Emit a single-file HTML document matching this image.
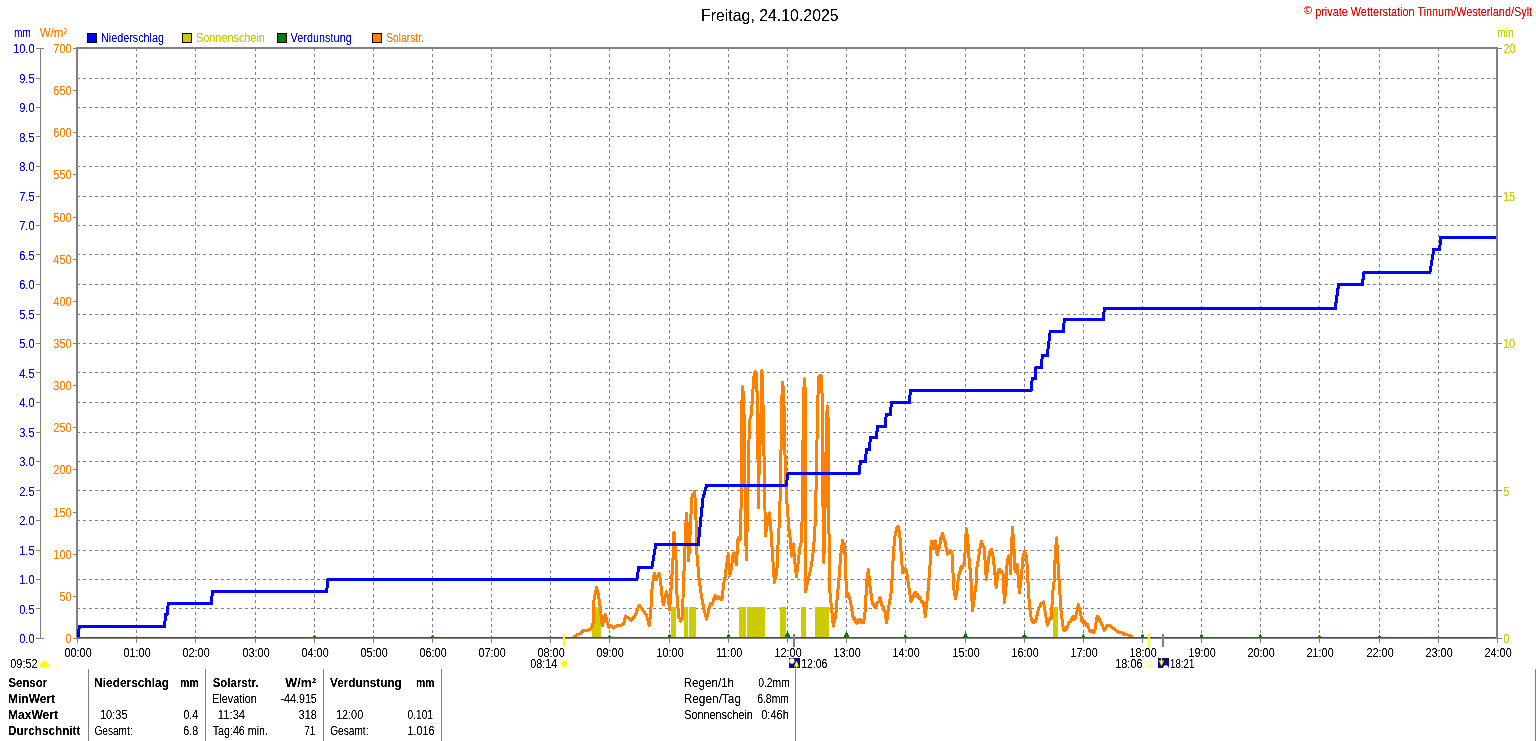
<!DOCTYPE html>
<html lang="de"><head><meta charset="utf-8"><title>Wetterstation Tinnum/Westerland/Sylt - Freitag, 24.10.2025</title>
<style>html,body{margin:0;padding:0;background:#fff;overflow:hidden}svg{display:block}text{font-family:"Liberation Sans",sans-serif;white-space:pre}</style></head><body>
<svg width="1536" height="741" viewBox="0 0 1536 741">
<defs><filter id="cr" x="0" y="0" width="1536" height="741" filterUnits="userSpaceOnUse" color-interpolation-filters="sRGB"><feComponentTransfer><feFuncA type="table" tableValues="0 0 0.7 1 1"/></feComponentTransfer></filter></defs>
<rect width="1536" height="741" fill="#fff"/>
<g shape-rendering="crispEdges" stroke="#808080" stroke-width="1" stroke-dasharray="3 3" fill="none">
<line x1="136.5" y1="48" x2="136.5" y2="637"/>
<line x1="195.5" y1="48" x2="195.5" y2="637"/>
<line x1="255.5" y1="48" x2="255.5" y2="637"/>
<line x1="314.5" y1="48" x2="314.5" y2="637"/>
<line x1="373.5" y1="48" x2="373.5" y2="637"/>
<line x1="432.5" y1="48" x2="432.5" y2="637"/>
<line x1="491.5" y1="48" x2="491.5" y2="637"/>
<line x1="550.5" y1="48" x2="550.5" y2="637"/>
<line x1="609.5" y1="48" x2="609.5" y2="637"/>
<line x1="669.5" y1="48" x2="669.5" y2="637"/>
<line x1="728.5" y1="48" x2="728.5" y2="637"/>
<line x1="787.5" y1="48" x2="787.5" y2="637"/>
<line x1="846.5" y1="48" x2="846.5" y2="637"/>
<line x1="905.5" y1="48" x2="905.5" y2="637"/>
<line x1="965.5" y1="48" x2="965.5" y2="637"/>
<line x1="1024.5" y1="48" x2="1024.5" y2="637"/>
<line x1="1083.5" y1="48" x2="1083.5" y2="637"/>
<line x1="1142.5" y1="48" x2="1142.5" y2="637"/>
<line x1="1201.5" y1="48" x2="1201.5" y2="637"/>
<line x1="1260.5" y1="48" x2="1260.5" y2="637"/>
<line x1="1319.5" y1="48" x2="1319.5" y2="637"/>
<line x1="1379.5" y1="48" x2="1379.5" y2="637"/>
<line x1="1438.5" y1="48" x2="1438.5" y2="637"/>
<line x1="77" y1="608.5" x2="1496" y2="608.5"/>
<line x1="77" y1="579.5" x2="1496" y2="579.5"/>
<line x1="77" y1="550.5" x2="1496" y2="550.5"/>
<line x1="77" y1="520.5" x2="1496" y2="520.5"/>
<line x1="77" y1="490.5" x2="1496" y2="490.5"/>
<line x1="77" y1="461.5" x2="1496" y2="461.5"/>
<line x1="77" y1="432.5" x2="1496" y2="432.5"/>
<line x1="77" y1="402.5" x2="1496" y2="402.5"/>
<line x1="77" y1="372.5" x2="1496" y2="372.5"/>
<line x1="77" y1="343.5" x2="1496" y2="343.5"/>
<line x1="77" y1="314.5" x2="1496" y2="314.5"/>
<line x1="77" y1="284.5" x2="1496" y2="284.5"/>
<line x1="77" y1="254.5" x2="1496" y2="254.5"/>
<line x1="77" y1="225.5" x2="1496" y2="225.5"/>
<line x1="77" y1="196.5" x2="1496" y2="196.5"/>
<line x1="77" y1="166.5" x2="1496" y2="166.5"/>
<line x1="77" y1="136.5" x2="1496" y2="136.5"/>
<line x1="77" y1="107.5" x2="1496" y2="107.5"/>
<line x1="77" y1="78.5" x2="1496" y2="78.5"/>
</g>
<g shape-rendering="crispEdges" fill="#cccc00">
<rect x="592" y="607" width="9" height="30"/>
<rect x="671" y="607" width="5" height="30"/>
<rect x="684" y="607" width="4" height="30"/>
<rect x="689" y="607" width="7" height="30"/>
<rect x="739" y="607" width="7" height="30"/>
<rect x="747" y="607" width="18" height="30"/>
<rect x="780" y="607" width="6" height="30"/>
<rect x="801" y="607" width="5" height="30"/>
<rect x="815" y="607" width="14" height="30"/>
<rect x="1053" y="607" width="5" height="30"/>
</g>
<g shape-rendering="crispEdges" fill="#808080">
<rect x="76" y="47" width="1422" height="2"/>
<rect x="76" y="47" width="2" height="592"/>
<rect x="1496" y="47" width="2" height="592"/>
<rect x="76" y="638" width="1422" height="1"/>
<rect x="40" y="48" width="1" height="591"/>
<rect x="77" y="638" width="1" height="5"/>
<rect x="136" y="638" width="1" height="5"/>
<rect x="195" y="638" width="1" height="5"/>
<rect x="255" y="638" width="1" height="5"/>
<rect x="314" y="638" width="1" height="5"/>
<rect x="373" y="638" width="1" height="5"/>
<rect x="432" y="638" width="1" height="5"/>
<rect x="491" y="638" width="1" height="5"/>
<rect x="550" y="638" width="1" height="5"/>
<rect x="609" y="638" width="1" height="5"/>
<rect x="669" y="638" width="1" height="5"/>
<rect x="728" y="638" width="1" height="5"/>
<rect x="787" y="638" width="1" height="5"/>
<rect x="846" y="638" width="1" height="5"/>
<rect x="905" y="638" width="1" height="5"/>
<rect x="965" y="638" width="1" height="5"/>
<rect x="1024" y="638" width="1" height="5"/>
<rect x="1083" y="638" width="1" height="5"/>
<rect x="1142" y="638" width="1" height="5"/>
<rect x="1201" y="638" width="1" height="5"/>
<rect x="1260" y="638" width="1" height="5"/>
<rect x="1319" y="638" width="1" height="5"/>
<rect x="1379" y="638" width="1" height="5"/>
<rect x="1438" y="638" width="1" height="5"/>
<rect x="1497" y="638" width="1" height="5"/>
<rect x="36" y="638" width="8" height="1"/>
<rect x="36" y="608" width="4" height="1"/>
<rect x="36" y="579" width="4" height="1"/>
<rect x="36" y="550" width="4" height="1"/>
<rect x="36" y="520" width="4" height="1"/>
<rect x="36" y="490" width="4" height="1"/>
<rect x="36" y="461" width="4" height="1"/>
<rect x="36" y="432" width="4" height="1"/>
<rect x="36" y="402" width="4" height="1"/>
<rect x="36" y="372" width="4" height="1"/>
<rect x="36" y="343" width="4" height="1"/>
<rect x="36" y="314" width="4" height="1"/>
<rect x="36" y="284" width="4" height="1"/>
<rect x="36" y="254" width="4" height="1"/>
<rect x="36" y="225" width="4" height="1"/>
<rect x="36" y="196" width="4" height="1"/>
<rect x="36" y="166" width="4" height="1"/>
<rect x="36" y="136" width="4" height="1"/>
<rect x="36" y="107" width="4" height="1"/>
<rect x="36" y="78" width="4" height="1"/>
<rect x="36" y="48" width="8" height="1"/>
<rect x="73" y="638" width="4" height="1"/>
<rect x="73" y="596" width="4" height="1"/>
<rect x="73" y="554" width="4" height="1"/>
<rect x="73" y="512" width="4" height="1"/>
<rect x="73" y="469" width="4" height="1"/>
<rect x="73" y="427" width="4" height="1"/>
<rect x="73" y="385" width="4" height="1"/>
<rect x="73" y="343" width="4" height="1"/>
<rect x="73" y="301" width="4" height="1"/>
<rect x="73" y="259" width="4" height="1"/>
<rect x="73" y="217" width="4" height="1"/>
<rect x="73" y="174" width="4" height="1"/>
<rect x="73" y="132" width="4" height="1"/>
<rect x="73" y="90" width="4" height="1"/>
<rect x="73" y="48" width="4" height="1"/>
<rect x="1498" y="638" width="4" height="1"/>
<rect x="1498" y="490" width="4" height="1"/>
<rect x="1498" y="343" width="4" height="1"/>
<rect x="1498" y="196" width="4" height="1"/>
<rect x="1498" y="48" width="4" height="1"/>
<rect x="88" y="669" width="1" height="72"/>
<rect x="205" y="669" width="1" height="72"/>
<rect x="323" y="669" width="1" height="72"/>
<rect x="441" y="669" width="1" height="72"/>
<rect x="795" y="669" width="1" height="72"/>
<rect x="1535" y="669" width="1" height="72"/>
</g>
<polyline shape-rendering="crispEdges" fill="none" stroke="#ff8000" stroke-width="3" stroke-linejoin="round" stroke-linecap="round" points="574.6,636.4 577.2,634.3 580.3,633.8 583.4,630.6 588.1,630.1 591.3,628.5 593.1,623.3 593.9,600.4 596.5,587.4 598.5,595.2 600.1,606.7 602.2,625.9 603.8,619.2 605.3,614.5 606.9,621.3 609.0,627.5 611.0,625.4 613.6,628.0 616.3,625.9 620.4,625.4 623.5,624.4 625.6,616.0 630.8,620.2 635.0,616.0 639.2,605.1 643.3,610.8 646.5,615.0 649.1,625.4 650.6,615.0 652.2,585.8 654.3,573.3 655.3,577.9 656.4,579.6 657.3,576.1 658.1,576.8 659.0,573.3 660.5,580.6 662.6,601.5 663.6,604.6 666.3,591.6 668.3,599.4 669.6,609.5 671.5,583.0 673.2,555.0 674.0,532.0 675.0,545.0 676.0,560.0 677.2,601.0 679.0,617.5 679.8,617.9 680.6,621.0 681.5,620.4 682.4,617.0 683.5,583.7 684.7,555.0 686.4,513.1 687.5,530.0 688.7,560.7 690.0,535.0 691.8,497.8 692.7,494.3 693.6,495.1 694.5,491.6 695.6,505.0 696.3,530.0 697.0,555.0 699.0,578.0 701.3,595.0 704.2,611.2 705.4,613.8 706.5,619.2 708.8,610.0 710.5,603.3 711.6,604.6 712.8,603.2 714.0,598.1 715.1,595.9 716.2,598.6 717.4,598.6 718.5,596.7 719.7,597.6 720.9,599.8 722.0,599.2 723.7,583.7 725.3,576.3 726.3,566.8 728.2,553.4 730.0,575.3 731.6,566.8 733.2,553.2 734.7,552.9 736.3,564.7 737.4,550.0 737.9,539.5 738.8,537.7 739.6,540.2 740.5,538.4 741.0,510.0 741.5,470.0 742.0,400.0 742.5,386.8 743.5,395.0 744.2,420.0 744.8,470.0 745.5,520.0 746.3,560.0 747.3,520.0 748.4,470.0 749.0,440.0 749.5,421.0 751.5,414.0 752.8,392.0 754.3,373.0 755.3,371.6 756.4,373.0 757.3,400.0 758.0,460.0 758.4,508.0 759.1,470.0 760.2,440.0 761.2,408.0 761.4,385.0 761.8,370.5 762.6,385.0 763.2,414.0 764.3,470.0 765.0,510.0 765.3,535.8 767.9,520.5 769.5,512.9 771.0,531.0 772.6,556.3 774.4,582.4 776.8,573.0 777.9,546.8 779.5,520.5 780.3,490.0 781.2,440.0 782.0,395.0 782.5,382.6 783.5,390.0 784.5,420.0 785.2,467.0 786.5,495.0 787.4,510.0 789.0,529.0 790.5,541.6 791.6,556.3 793.2,543.9 794.7,560.5 796.4,576.7 798.4,560.5 800.0,546.8 801.6,540.5 802.5,500.0 803.0,440.0 803.8,390.0 804.6,378.8 805.2,390.0 805.5,450.0 805.5,552.0 805.6,591.7 808.3,579.4 810.5,570.0 812.6,557.4 814.2,540.5 815.3,520.5 816.0,490.0 817.0,440.0 817.8,400.0 818.8,376.5 819.7,377.9 820.7,375.1 821.6,376.5 822.2,400.0 822.5,470.0 823.2,520.0 823.8,562.6 824.8,520.0 825.8,465.0 826.5,420.0 827.3,405.8 828.2,420.0 828.6,470.0 828.9,520.0 829.3,570.0 829.6,589.0 831.5,607.8 833.4,626.2 835.7,615.3 837.6,593.6 839.5,573.0 840.5,557.4 842.6,540.3 843.4,543.4 844.2,543.7 845.3,558.4 845.8,575.0 846.6,596.5 847.5,593.9 848.5,594.0 850.4,601.2 852.7,615.3 853.7,619.1 854.6,618.6 855.6,622.4 856.5,623.3 857.5,620.0 858.4,622.3 859.3,620.4 860.4,619.5 861.5,622.8 862.5,620.5 863.6,622.4 865.0,612.5 866.4,588.9 867.4,575.0 868.4,569.7 869.7,584.2 872.1,601.2 873.0,604.8 874.0,604.2 874.9,607.8 876.0,607.3 877.1,602.6 878.2,602.1 879.2,601.1 880.1,597.3 882.0,605.9 883.0,606.1 883.9,610.4 884.9,610.6 886.6,622.9 888.6,607.8 891.0,593.6 892.2,576.6 893.2,557.0 894.7,537.5 896.6,528.7 897.6,526.5 898.6,527.1 900.0,537.5 901.5,557.0 902.5,572.7 903.7,571.8 904.9,568.1 905.9,569.0 906.9,572.7 908.3,584.4 909.1,588.7 910.9,601.4 911.9,600.6 913.0,595.6 914.0,596.3 915.0,592.7 915.9,592.3 916.8,596.1 917.8,594.4 918.7,598.2 919.6,597.8 920.6,598.0 921.7,602.4 922.7,601.2 923.7,604.2 925.3,616.5 926.9,602.3 928.3,588.7 928.8,580.5 929.8,568.8 930.8,550.2 931.3,541.3 932.2,549.0 933.0,541.3 934.0,549.0 934.8,541.3 935.7,541.0 936.4,549.0 937.1,555.1 939.6,546.3 941.0,537.5 942.5,533.5 943.8,538.9 945.0,541.4 947.4,554.1 948.4,551.5 949.3,553.2 950.3,550.6 951.3,551.4 952.3,555.1 952.8,568.8 953.8,588.7 955.4,598.7 957.0,591.4 958.6,575.6 959.6,573.6 960.6,568.8 961.6,566.4 962.5,568.2 963.5,564.5 964.5,564.9 965.5,542.4 966.4,528.6 967.9,542.4 968.9,557.0 970.8,576.6 971.6,593.2 972.5,610.5 974.3,597.8 976.1,584.1 976.7,568.8 978.7,557.0 980.6,544.4 981.6,541.3 982.8,545.7 984.0,547.3 985.0,560.0 986.3,579.6 988.4,560.0 989.9,551.2 991.3,549.1 993.3,557.0 994.8,572.7 996.2,587.8 998.2,570.6 999.3,569.4 1000.5,572.4 1001.6,571.2 1003.0,573.7 1004.4,602.3 1005.9,590.0 1006.8,566.8 1008.3,555.9 1009.8,557.0 1010.3,573.7 1011.0,555.0 1012.5,527.6 1013.8,545.0 1015.1,571.7 1017.1,564.2 1018.0,575.0 1019.4,592.8 1021.0,580.0 1022.0,568.8 1023.0,557.0 1024.4,551.0 1025.4,552.6 1026.4,557.0 1027.3,566.8 1028.5,593.2 1030.5,615.1 1032.3,621.5 1033.4,622.9 1034.4,620.1 1035.5,621.5 1037.3,614.2 1039.1,606.9 1040.0,607.1 1041.0,603.1 1041.9,603.3 1043.5,601.8 1045.1,611.5 1047.3,625.1 1048.2,623.8 1049.2,619.7 1050.1,617.9 1051.0,618.8 1051.9,606.9 1052.8,591.4 1053.6,585.0 1054.2,580.5 1054.9,562.0 1055.9,546.3 1056.6,537.9 1057.6,556.0 1058.6,574.6 1059.6,586.4 1059.9,593.2 1061.0,609.6 1062.4,622.4 1063.6,630.2 1064.5,630.8 1065.5,627.2 1066.5,629.2 1067.4,627.0 1068.6,622.9 1069.7,621.5 1070.8,621.3 1072.0,618.3 1073.1,616.7 1074.1,619.4 1075.2,617.8 1077.0,611.5 1078.3,604.6 1080.2,611.5 1082.0,621.5 1082.9,620.6 1083.8,623.8 1084.7,621.4 1085.6,623.3 1086.5,625.9 1087.5,624.4 1088.4,627.0 1089.5,630.6 1090.6,631.5 1091.8,630.8 1092.9,632.9 1094.1,632.2 1095.2,628.8 1096.6,618.8 1097.5,616.6 1098.4,617.3 1100.7,621.5 1103.0,627.0 1104.3,630.6 1106.6,626.0 1109.8,625.6 1113.9,628.8 1118.0,632.0 1122.1,632.4 1124.8,634.7 1128.5,635.1 1131.7,636.4"/>
<polyline shape-rendering="crispEdges" fill="none" stroke="#0000ff" stroke-width="3" stroke-linejoin="miter" points="78.5,637.0 78.5,632.0 79.5,626.0 164.4,626.0 165.7,614.7 167.0,614.7 168.4,603.2 211.3,603.2 212.5,591.4 326.7,591.4 328.0,579.2 636.9,579.2 638.8,567.4 652.0,567.4 655.8,544.0 698.3,544.0 703.0,497.8 706.8,485.0 786.2,485.0 788.0,473.3 859.1,473.3 860.4,461.4 865.3,461.4 866.4,449.5 869.3,449.5 870.5,437.7 876.6,437.7 877.4,426.0 885.3,426.0 886.3,414.2 890.2,414.2 891.5,402.4 909.3,402.4 910.4,390.6 1031.0,390.6 1032.3,378.8 1035.1,378.8 1036.0,367.0 1041.3,367.0 1042.4,355.3 1047.2,355.3 1050.2,331.7 1063.1,331.7 1064.3,319.8 1103.1,319.8 1104.4,308.2 1335.2,308.2 1338.6,284.5 1362.3,284.5 1364.0,272.5 1430.0,272.5 1433.8,249.0 1439.5,249.0 1440.9,237.3 1496.0,237.3"/>
<g shape-rendering="crispEdges" fill="#008000">
<rect x="78" y="637" width="1418" height="1"/>
<polygon points="254.4,637 255.5,636.0 256.6,637"/>
<polygon points="313.0,637 314.5,635.0 316.0,637"/>
<polygon points="372.4,637 373.5,636.0 374.6,637"/>
<polygon points="431.0,637 432.5,635.0 434.0,637"/>
<polygon points="490.4,637 491.5,636.0 492.6,637"/>
<polygon points="549.5,637 550.5,636.0 551.5,637"/>
<polygon points="608.0,637 609.5,635.0 611.0,637"/>
<polygon points="667.3,637 669.5,633.5 671.7,637"/>
<polygon points="726.3,637 728.5,633.5 730.7,637"/>
<polygon points="784.7,637 787.5,631.0 790.3,637"/>
<polygon points="843.7,637 846.5,631.5 849.3,637"/>
<polygon points="903.5,637 905.5,634.0 907.5,637"/>
<polygon points="962.7,637 965.5,632.0 968.3,637"/>
<polygon points="1022.1,637 1024.5,633.0 1026.9,637"/>
<polygon points="1081.5,637 1083.5,634.0 1085.5,637"/>
<polygon points="1140.3,637 1142.5,633.5 1144.7,637"/>
<polygon points="1199.3,637 1201.5,633.5 1203.7,637"/>
<polygon points="1258.5,637 1260.5,634.0 1262.5,637"/>
<polygon points="1317.8,637 1319.5,634.5 1321.2,637"/>
<polygon points="1377.8,637 1379.5,634.5 1381.2,637"/>
<polygon points="1437.5,637 1438.5,636.0 1439.5,637"/>
</g>
<g shape-rendering="crispEdges">
<rect x="563" y="634" width="2" height="13" fill="#ffff00"/>
<rect x="1148" y="634" width="2" height="13" fill="#ffff00"/>
<rect x="793" y="634" width="2" height="13" fill="#808080"/>
<rect x="1162" y="634" width="2" height="13" fill="#808080"/>
</g>
<rect shape-rendering="crispEdges" x="87.5" y="33.5" width="9" height="9" fill="#0000ff" stroke="#000" stroke-width="1"/>
<rect shape-rendering="crispEdges" x="182.5" y="33.5" width="9" height="9" fill="#cccc00" stroke="#000" stroke-width="1"/>
<rect shape-rendering="crispEdges" x="277.5" y="33.5" width="9" height="9" fill="#008000" stroke="#000" stroke-width="1"/>
<rect shape-rendering="crispEdges" x="372.5" y="33.5" width="9" height="9" fill="#ff8000" stroke="#000" stroke-width="1"/>
<path shape-rendering="crispEdges" fill="#ffff00" d="M40 667V664H41V662H43V661H46V662H48V664H49V667Z"/>
<g fill="#ffff00"><circle cx="564" cy="664" r="3"/><g opacity=".35"><circle cx="564" cy="658.6" r=".9"/><circle cx="560.4" cy="660.4" r=".8"/><circle cx="567.8" cy="660" r=".8"/><circle cx="569.4" cy="664" r=".9"/><circle cx="560.4" cy="667.6" r=".8"/><circle cx="567.6" cy="667.6" r=".8"/><circle cx="564" cy="668.4" r=".7"/></g></g>
<g><rect shape-rendering="crispEdges" x="789" y="658" width="11" height="10" fill="#0c0c8c"/><circle cx="791.9" cy="661" r="2.7" fill="#fff"/><path d="M795.6 660.4L793 666.6H795.2V668H796.4V666.6H798.2Z" fill="#000"/><path d="M796.5 660.4L793.8 666.6H795.9V668H797.1V666.6H799Z" fill="#ffff00"/></g>
<rect x="1146.5" y="661.5" width="5" height="5" fill="none" stroke="#ffff66" stroke-opacity=".8" stroke-width="1"/>
<g><rect shape-rendering="crispEdges" x="1158" y="658" width="11" height="10" fill="#0c0c8c"/><path d="M1165.9 665.3a2.7 2.7 0 0 1 2.7 2.7h-5.4a2.7 2.7 0 0 1 2.7-2.7z" fill="#fff"/><path d="M1161.6 658H1162.8V660.5H1165L1162.3 666.2L1159.6 660.5H1161.6Z" fill="#000"/><path d="M1160.9 658H1162.1V660.5H1164.2L1161.5 666.2L1158.8 660.5H1160.9Z" fill="#ffff00"/></g>
<g filter="url(#cr)">
<text x="700.99" y="20.80" font-size="16.50" fill="#000" textLength="137.66" lengthAdjust="spacingAndGlyphs">Freitag, 24.10.2025</text>
<text x="1303.63" y="14.00" font-size="10.00" fill="#ff0000" textLength="8.57" lengthAdjust="spacingAndGlyphs">©</text>
<text x="1315.19" y="16.00" font-size="12.50" fill="#ff0000" textLength="216.89" lengthAdjust="spacingAndGlyphs">private Wetterstation Tinnum/Westerland/Sylt</text>
<text x="14.12" y="37.00" font-size="12.50" fill="#0000ff" textLength="16.85" lengthAdjust="spacingAndGlyphs">mm</text>
<text x="39.74" y="37.00" font-size="12.50" fill="#ff8000" textLength="27.46" lengthAdjust="spacingAndGlyphs">W/m²</text>
<text x="1497.20" y="37.00" font-size="12.50" fill="#cccc00" textLength="16.69" lengthAdjust="spacingAndGlyphs">min</text>
<text x="101.01" y="42.00" font-size="12.50" fill="#0000ff" textLength="62.98" lengthAdjust="spacingAndGlyphs">Niederschlag</text>
<text x="196.01" y="42.00" font-size="12.50" fill="#cccc00" textLength="68.91" lengthAdjust="spacingAndGlyphs">Sonnenschein</text>
<text x="290.55" y="42.00" font-size="12.50" fill="#0000ff" textLength="61.25" lengthAdjust="spacingAndGlyphs">Verdunstung</text>
<text x="386.14" y="42.00" font-size="12.50" fill="#ff8000" textLength="37.80" lengthAdjust="spacingAndGlyphs">Solarstr.</text>
<text x="12.97" y="53.00" font-size="12.50" fill="#0000ff" textLength="21.67" lengthAdjust="spacingAndGlyphs">10.0</text>
<text x="19.17" y="82.50" font-size="12.50" fill="#0000ff" textLength="15.48" lengthAdjust="spacingAndGlyphs">9.5</text>
<text x="19.14" y="112.00" font-size="12.50" fill="#0000ff" textLength="15.48" lengthAdjust="spacingAndGlyphs">9.0</text>
<text x="19.17" y="141.50" font-size="12.50" fill="#0000ff" textLength="15.48" lengthAdjust="spacingAndGlyphs">8.5</text>
<text x="19.14" y="171.00" font-size="12.50" fill="#0000ff" textLength="15.48" lengthAdjust="spacingAndGlyphs">8.0</text>
<text x="19.17" y="200.50" font-size="12.50" fill="#0000ff" textLength="15.48" lengthAdjust="spacingAndGlyphs">7.5</text>
<text x="19.14" y="230.00" font-size="12.50" fill="#0000ff" textLength="15.48" lengthAdjust="spacingAndGlyphs">7.0</text>
<text x="19.17" y="259.50" font-size="12.50" fill="#0000ff" textLength="15.48" lengthAdjust="spacingAndGlyphs">6.5</text>
<text x="19.14" y="289.00" font-size="12.50" fill="#0000ff" textLength="15.48" lengthAdjust="spacingAndGlyphs">6.0</text>
<text x="19.17" y="318.50" font-size="12.50" fill="#0000ff" textLength="15.48" lengthAdjust="spacingAndGlyphs">5.5</text>
<text x="19.14" y="348.00" font-size="12.50" fill="#0000ff" textLength="15.48" lengthAdjust="spacingAndGlyphs">5.0</text>
<text x="19.17" y="377.50" font-size="12.50" fill="#0000ff" textLength="15.48" lengthAdjust="spacingAndGlyphs">4.5</text>
<text x="19.14" y="407.00" font-size="12.50" fill="#0000ff" textLength="15.48" lengthAdjust="spacingAndGlyphs">4.0</text>
<text x="19.17" y="436.50" font-size="12.50" fill="#0000ff" textLength="15.48" lengthAdjust="spacingAndGlyphs">3.5</text>
<text x="19.14" y="466.00" font-size="12.50" fill="#0000ff" textLength="15.48" lengthAdjust="spacingAndGlyphs">3.0</text>
<text x="19.17" y="495.50" font-size="12.50" fill="#0000ff" textLength="15.48" lengthAdjust="spacingAndGlyphs">2.5</text>
<text x="19.14" y="525.00" font-size="12.50" fill="#0000ff" textLength="15.48" lengthAdjust="spacingAndGlyphs">2.0</text>
<text x="19.17" y="554.50" font-size="12.50" fill="#0000ff" textLength="15.48" lengthAdjust="spacingAndGlyphs">1.5</text>
<text x="19.14" y="584.00" font-size="12.50" fill="#0000ff" textLength="15.48" lengthAdjust="spacingAndGlyphs">1.0</text>
<text x="19.17" y="613.50" font-size="12.50" fill="#0000ff" textLength="15.48" lengthAdjust="spacingAndGlyphs">0.5</text>
<text x="19.14" y="643.00" font-size="12.50" fill="#0000ff" textLength="15.48" lengthAdjust="spacingAndGlyphs">0.0</text>
<text x="53.33" y="53.00" font-size="12.50" fill="#ff8000" textLength="18.19" lengthAdjust="spacingAndGlyphs">700</text>
<text x="53.33" y="95.14" font-size="12.50" fill="#ff8000" textLength="18.19" lengthAdjust="spacingAndGlyphs">650</text>
<text x="53.33" y="137.29" font-size="12.50" fill="#ff8000" textLength="18.19" lengthAdjust="spacingAndGlyphs">600</text>
<text x="53.33" y="179.43" font-size="12.50" fill="#ff8000" textLength="18.19" lengthAdjust="spacingAndGlyphs">550</text>
<text x="53.33" y="221.57" font-size="12.50" fill="#ff8000" textLength="18.19" lengthAdjust="spacingAndGlyphs">500</text>
<text x="53.33" y="263.71" font-size="12.50" fill="#ff8000" textLength="18.19" lengthAdjust="spacingAndGlyphs">450</text>
<text x="53.33" y="305.86" font-size="12.50" fill="#ff8000" textLength="18.19" lengthAdjust="spacingAndGlyphs">400</text>
<text x="53.33" y="348.00" font-size="12.50" fill="#ff8000" textLength="18.19" lengthAdjust="spacingAndGlyphs">350</text>
<text x="53.33" y="390.14" font-size="12.50" fill="#ff8000" textLength="18.19" lengthAdjust="spacingAndGlyphs">300</text>
<text x="53.33" y="432.29" font-size="12.50" fill="#ff8000" textLength="18.19" lengthAdjust="spacingAndGlyphs">250</text>
<text x="53.33" y="474.43" font-size="12.50" fill="#ff8000" textLength="18.19" lengthAdjust="spacingAndGlyphs">200</text>
<text x="53.33" y="516.57" font-size="12.50" fill="#ff8000" textLength="18.19" lengthAdjust="spacingAndGlyphs">150</text>
<text x="53.33" y="558.71" font-size="12.50" fill="#ff8000" textLength="18.19" lengthAdjust="spacingAndGlyphs">100</text>
<text x="59.41" y="600.86" font-size="12.50" fill="#ff8000" textLength="12.13" lengthAdjust="spacingAndGlyphs">50</text>
<text x="65.46" y="643.00" font-size="12.50" fill="#ff8000" textLength="6.06" lengthAdjust="spacingAndGlyphs">0</text>
<text x="1503.25" y="53.00" font-size="12.50" fill="#cccc00" textLength="12.29" lengthAdjust="spacingAndGlyphs">20</text>
<text x="1502.97" y="200.50" font-size="12.50" fill="#cccc00" textLength="12.29" lengthAdjust="spacingAndGlyphs">15</text>
<text x="1502.97" y="348.00" font-size="12.50" fill="#cccc00" textLength="12.29" lengthAdjust="spacingAndGlyphs">10</text>
<text x="1503.36" y="495.50" font-size="12.50" fill="#cccc00" textLength="6.15" lengthAdjust="spacingAndGlyphs">5</text>
<text x="1503.36" y="643.00" font-size="12.50" fill="#cccc00" textLength="6.15" lengthAdjust="spacingAndGlyphs">0</text>
<text x="64.46" y="657.00" font-size="12.50" fill="#000" textLength="27.24" lengthAdjust="spacingAndGlyphs">00:00</text>
<text x="123.48" y="657.00" font-size="12.50" fill="#000" textLength="27.24" lengthAdjust="spacingAndGlyphs">01:00</text>
<text x="182.48" y="657.00" font-size="12.50" fill="#000" textLength="27.24" lengthAdjust="spacingAndGlyphs">02:00</text>
<text x="242.48" y="657.00" font-size="12.50" fill="#000" textLength="27.24" lengthAdjust="spacingAndGlyphs">03:00</text>
<text x="301.48" y="657.00" font-size="12.50" fill="#000" textLength="27.24" lengthAdjust="spacingAndGlyphs">04:00</text>
<text x="360.48" y="657.00" font-size="12.50" fill="#000" textLength="27.24" lengthAdjust="spacingAndGlyphs">05:00</text>
<text x="419.48" y="657.00" font-size="12.50" fill="#000" textLength="27.24" lengthAdjust="spacingAndGlyphs">06:00</text>
<text x="478.48" y="657.00" font-size="12.50" fill="#000" textLength="27.24" lengthAdjust="spacingAndGlyphs">07:00</text>
<text x="537.48" y="657.00" font-size="12.50" fill="#000" textLength="27.24" lengthAdjust="spacingAndGlyphs">08:00</text>
<text x="596.48" y="657.00" font-size="12.50" fill="#000" textLength="27.24" lengthAdjust="spacingAndGlyphs">09:00</text>
<text x="656.48" y="657.00" font-size="12.50" fill="#000" textLength="27.24" lengthAdjust="spacingAndGlyphs">10:00</text>
<text x="715.88" y="657.00" font-size="12.50" fill="#000" textLength="26.44" lengthAdjust="spacingAndGlyphs">11:00</text>
<text x="774.48" y="657.00" font-size="12.50" fill="#000" textLength="27.24" lengthAdjust="spacingAndGlyphs">12:00</text>
<text x="833.48" y="657.00" font-size="12.50" fill="#000" textLength="27.24" lengthAdjust="spacingAndGlyphs">13:00</text>
<text x="892.48" y="657.00" font-size="12.50" fill="#000" textLength="27.24" lengthAdjust="spacingAndGlyphs">14:00</text>
<text x="952.48" y="657.00" font-size="12.50" fill="#000" textLength="27.24" lengthAdjust="spacingAndGlyphs">15:00</text>
<text x="1011.48" y="657.00" font-size="12.50" fill="#000" textLength="27.24" lengthAdjust="spacingAndGlyphs">16:00</text>
<text x="1070.48" y="657.00" font-size="12.50" fill="#000" textLength="27.24" lengthAdjust="spacingAndGlyphs">17:00</text>
<text x="1129.48" y="657.00" font-size="12.50" fill="#000" textLength="27.24" lengthAdjust="spacingAndGlyphs">18:00</text>
<text x="1188.48" y="657.00" font-size="12.50" fill="#000" textLength="27.24" lengthAdjust="spacingAndGlyphs">19:00</text>
<text x="1247.48" y="657.00" font-size="12.50" fill="#000" textLength="27.24" lengthAdjust="spacingAndGlyphs">20:00</text>
<text x="1306.48" y="657.00" font-size="12.50" fill="#000" textLength="27.24" lengthAdjust="spacingAndGlyphs">21:00</text>
<text x="1366.48" y="657.00" font-size="12.50" fill="#000" textLength="27.24" lengthAdjust="spacingAndGlyphs">22:00</text>
<text x="1425.48" y="657.00" font-size="12.50" fill="#000" textLength="27.24" lengthAdjust="spacingAndGlyphs">23:00</text>
<text x="1484.48" y="657.00" font-size="12.50" fill="#000" textLength="27.24" lengthAdjust="spacingAndGlyphs">24:00</text>
<text x="10.26" y="668.00" font-size="12.50" fill="#000" textLength="27.39" lengthAdjust="spacingAndGlyphs">09:52</text>
<text x="530.17" y="668.00" font-size="12.50" fill="#000" textLength="27.13" lengthAdjust="spacingAndGlyphs">08:14</text>
<text x="801.21" y="668.00" font-size="12.50" fill="#000" textLength="26.23" lengthAdjust="spacingAndGlyphs">12:06</text>
<text x="1115.18" y="668.00" font-size="12.50" fill="#000" textLength="27.39" lengthAdjust="spacingAndGlyphs">18:06</text>
<text x="1169.97" y="668.00" font-size="12.50" fill="#000" textLength="24.50" lengthAdjust="spacingAndGlyphs">18:21</text>
<text x="8.46" y="687.00" font-size="12.50" fill="#000" font-weight="bold" textLength="38.62" lengthAdjust="spacingAndGlyphs">Sensor</text>
<text x="7.99" y="703.00" font-size="12.50" fill="#000" font-weight="bold" textLength="47.07" lengthAdjust="spacingAndGlyphs">MinWert</text>
<text x="7.99" y="719.00" font-size="12.50" fill="#000" font-weight="bold" textLength="50.06" lengthAdjust="spacingAndGlyphs">MaxWert</text>
<text x="8.01" y="735.00" font-size="12.50" fill="#000" font-weight="bold" textLength="72.44" lengthAdjust="spacingAndGlyphs">Durchschnitt</text>
<text x="94.10" y="687.00" font-size="12.50" fill="#000" font-weight="bold" textLength="74.89" lengthAdjust="spacingAndGlyphs">Niederschlag</text>
<text x="180.23" y="687.00" font-size="12.50" fill="#000" font-weight="bold" textLength="18.40" lengthAdjust="spacingAndGlyphs">mm</text>
<text x="212.66" y="687.00" font-size="12.50" fill="#000" font-weight="bold" textLength="45.91" lengthAdjust="spacingAndGlyphs">Solarstr.</text>
<text x="285.37" y="687.00" font-size="12.50" fill="#000" font-weight="bold" textLength="30.80" lengthAdjust="spacingAndGlyphs">W/m²</text>
<text x="330.11" y="687.00" font-size="12.50" fill="#000" font-weight="bold" textLength="71.67" lengthAdjust="spacingAndGlyphs">Verdunstung</text>
<text x="416.12" y="687.00" font-size="12.50" fill="#000" font-weight="bold" textLength="18.51" lengthAdjust="spacingAndGlyphs">mm</text>
<text x="99.97" y="719.00" font-size="12.50" fill="#000" textLength="27.57" lengthAdjust="spacingAndGlyphs">10:35</text>
<text x="183.38" y="719.00" font-size="12.50" fill="#000" textLength="14.61" lengthAdjust="spacingAndGlyphs">0.4</text>
<text x="94.39" y="735.00" font-size="12.50" fill="#000" textLength="38.33" lengthAdjust="spacingAndGlyphs">Gesamt:</text>
<text x="183.26" y="735.00" font-size="12.50" fill="#000" textLength="14.89" lengthAdjust="spacingAndGlyphs">6.8</text>
<text x="212.10" y="703.00" font-size="12.50" fill="#000" textLength="44.82" lengthAdjust="spacingAndGlyphs">Elevation</text>
<text x="280.42" y="703.00" font-size="12.50" fill="#000" textLength="36.43" lengthAdjust="spacingAndGlyphs">-44.915</text>
<text x="217.86" y="719.00" font-size="12.50" fill="#000" textLength="27.26" lengthAdjust="spacingAndGlyphs">11:34</text>
<text x="298.59" y="719.00" font-size="12.50" fill="#000" textLength="18.29" lengthAdjust="spacingAndGlyphs">318</text>
<text x="212.76" y="735.00" font-size="12.50" fill="#000" textLength="55.20" lengthAdjust="spacingAndGlyphs">Tag:46 min.</text>
<text x="304.50" y="735.00" font-size="12.50" fill="#000" textLength="10.68" lengthAdjust="spacingAndGlyphs">71</text>
<text x="335.88" y="719.00" font-size="12.50" fill="#000" textLength="27.33" lengthAdjust="spacingAndGlyphs">12:00</text>
<text x="407.60" y="719.00" font-size="12.50" fill="#000" textLength="25.28" lengthAdjust="spacingAndGlyphs">0.101</text>
<text x="330.19" y="735.00" font-size="12.50" fill="#000" textLength="38.33" lengthAdjust="spacingAndGlyphs">Gesamt:</text>
<text x="407.49" y="735.00" font-size="12.50" fill="#000" textLength="26.97" lengthAdjust="spacingAndGlyphs">1.016</text>
<text x="683.74" y="687.00" font-size="12.50" fill="#000" textLength="50.34" lengthAdjust="spacingAndGlyphs">Regen/1h</text>
<text x="758.19" y="687.00" font-size="12.50" fill="#000" textLength="31.70" lengthAdjust="spacingAndGlyphs">0.2mm</text>
<text x="683.72" y="703.00" font-size="12.50" fill="#000" textLength="57.34" lengthAdjust="spacingAndGlyphs">Regen/Tag</text>
<text x="757.18" y="703.00" font-size="12.50" fill="#000" textLength="31.81" lengthAdjust="spacingAndGlyphs">6.8mm</text>
<text x="684.21" y="719.00" font-size="12.50" fill="#000" textLength="68.70" lengthAdjust="spacingAndGlyphs">Sonnenschein</text>
<text x="761.15" y="719.00" font-size="12.50" fill="#000" textLength="27.87" lengthAdjust="spacingAndGlyphs">0:46h</text>
</g>
</svg></body></html>
